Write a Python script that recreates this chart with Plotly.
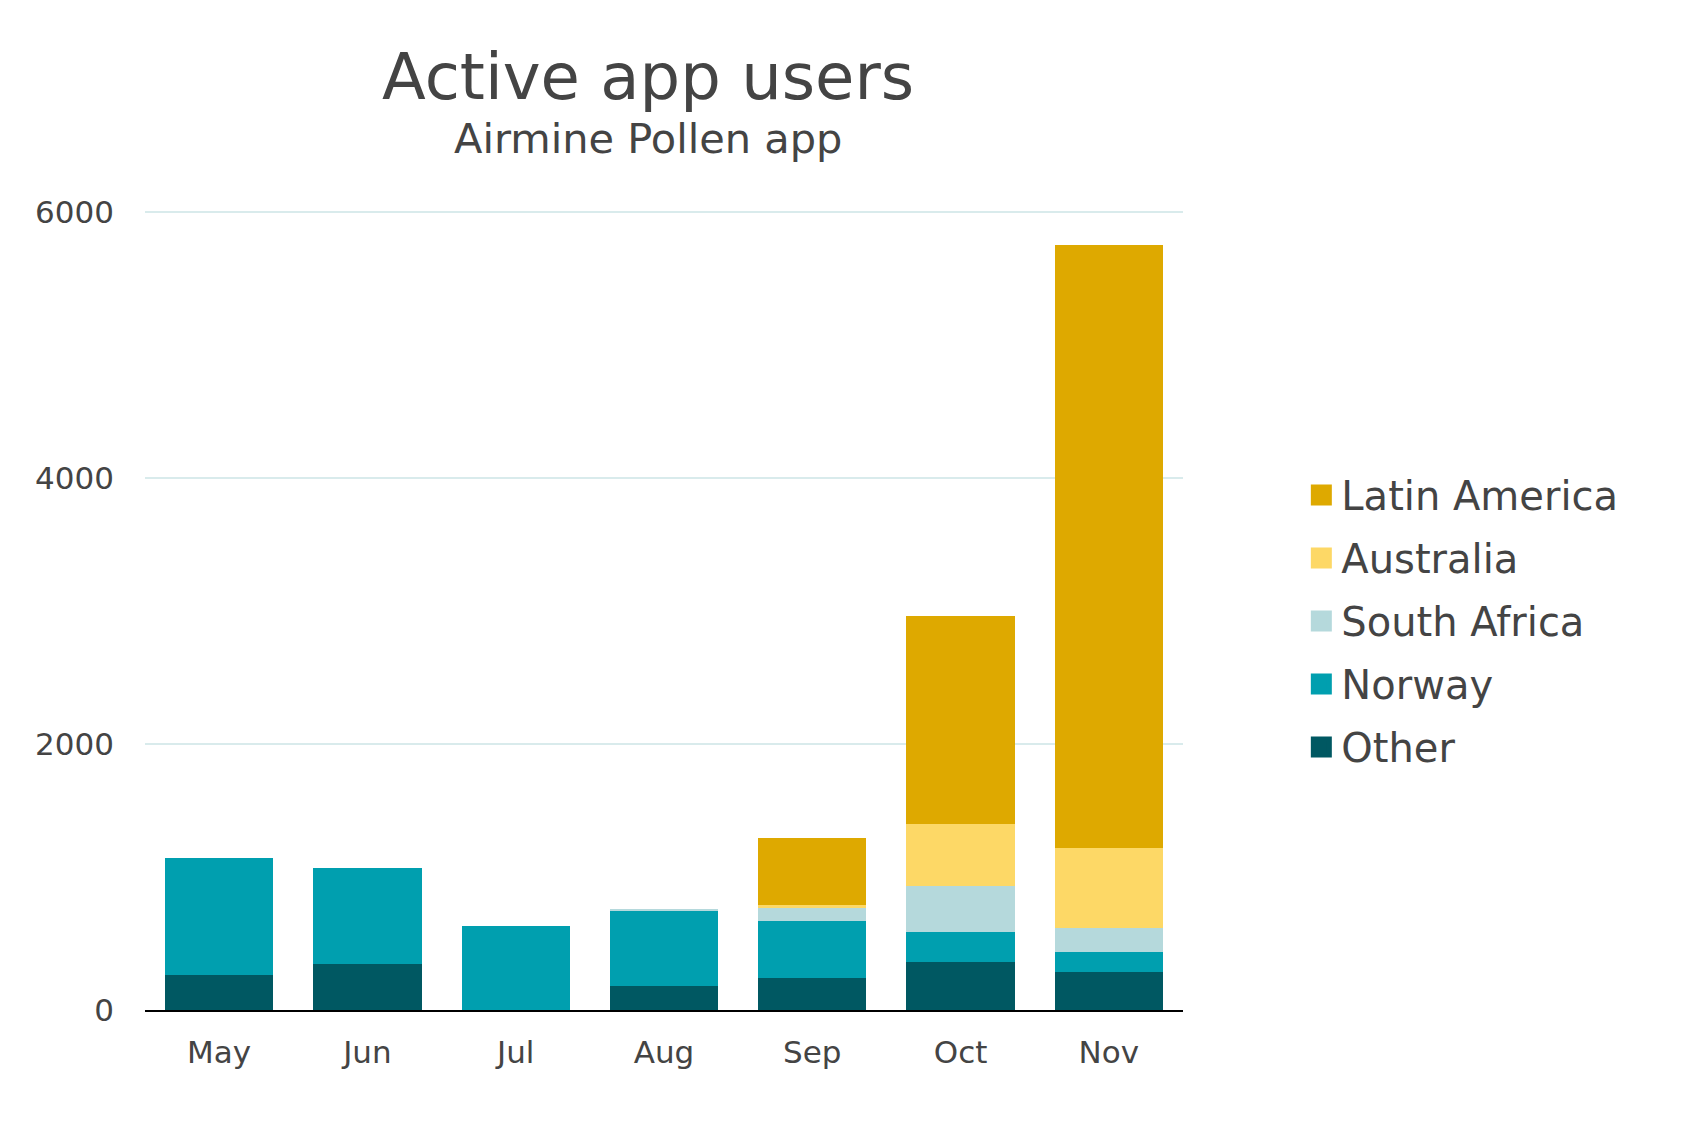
import plotly.graph_objects as go

months = ["May", "Jun", "Jul", "Aug", "Sep", "Oct", "Nov"]
other = [264, 347, 0, 181, 241, 360, 285]
norway = [882, 724, 633, 565, 425, 228, 150]
south_africa = [0, 0, 0, 8, 100, 343, 181]
australia = [0, 0, 0, 0, 26, 466, 605]
latin_america = [0, 0, 0, 0, 505, 1569, 4533]

series_names = ["Other", "Norway", "South Africa", "Australia", "Latin America"]
series_values = [other, norway, south_africa, australia, latin_america]
series_colors = ["#005862", "#009FAF", "#B5D9DC", "#FDD866", "#DEA900"]

y_ticks = [0, 2000, 4000, 6000]

TEXT = "#444444"
FONT = "DejaVu Sans"

fig = go.Figure()
for name, vals, col in zip(series_names, series_values, series_colors):
    fig.add_trace(go.Bar(
        x=months, y=vals, name=name,
        marker=dict(color=col, line=dict(width=0)),
        showlegend=False,
    ))
# legend entries (top to bottom: Latin America ... Other) with larger square swatches
for name, col in zip(series_names[::-1], series_colors[::-1]):
    fig.add_trace(go.Scatter(
        x=[None], y=[None], mode="markers", name=name, legendgroup=name,
        marker=dict(symbol="square", size=16, color=col, line=dict(color=col, width=5)),
        showlegend=True, hoverinfo="skip",
    ))

fig.update_layout(
    width=1684, height=1126,
    barmode="stack", bargap=0.27,
    plot_bgcolor="white", paper_bgcolor="white",
    margin=dict(l=145, r=501, t=211, b=116),
    font=dict(family=FONT, color=TEXT, size=31),
    showlegend=True,
    legend=dict(
        x=1.114, xanchor="left", y=0.487, yanchor="middle",
        traceorder="grouped", tracegroupgap=8,
        font=dict(size=40, color=TEXT, family=FONT),
        itemsizing="trace",
    ),
    annotations=[
        dict(text="Active app users", x=0.4846, y=1.168, xref="paper", yref="paper",
             xanchor="center", yanchor="middle", showarrow=False,
             font=dict(size=64, color=TEXT, family=FONT)),
        dict(text="Airmine Pollen app", x=0.4846, y=1.091, xref="paper", yref="paper",
             xanchor="center", yanchor="middle", showarrow=False,
             font=dict(size=41.5, color=TEXT, family=FONT)),
    ],
)
fig.update_xaxes(
    showline=True, linecolor="black", linewidth=1.5,
    showgrid=False, ticks="", ticklabelstandoff=14,
    tickfont=dict(size=31, color=TEXT, family=FONT),
)
fig.update_yaxes(
    range=[0, 6008], tickvals=y_ticks, ticktext=[str(v) for v in y_ticks],
    showgrid=True, gridcolor="#D9EBEC", gridwidth=1.5,
    zeroline=False, showline=False, ticks="", ticklabelstandoff=30,
    tickfont=dict(size=31, color=TEXT, family=FONT),
)

fig.write_html("out.html")
